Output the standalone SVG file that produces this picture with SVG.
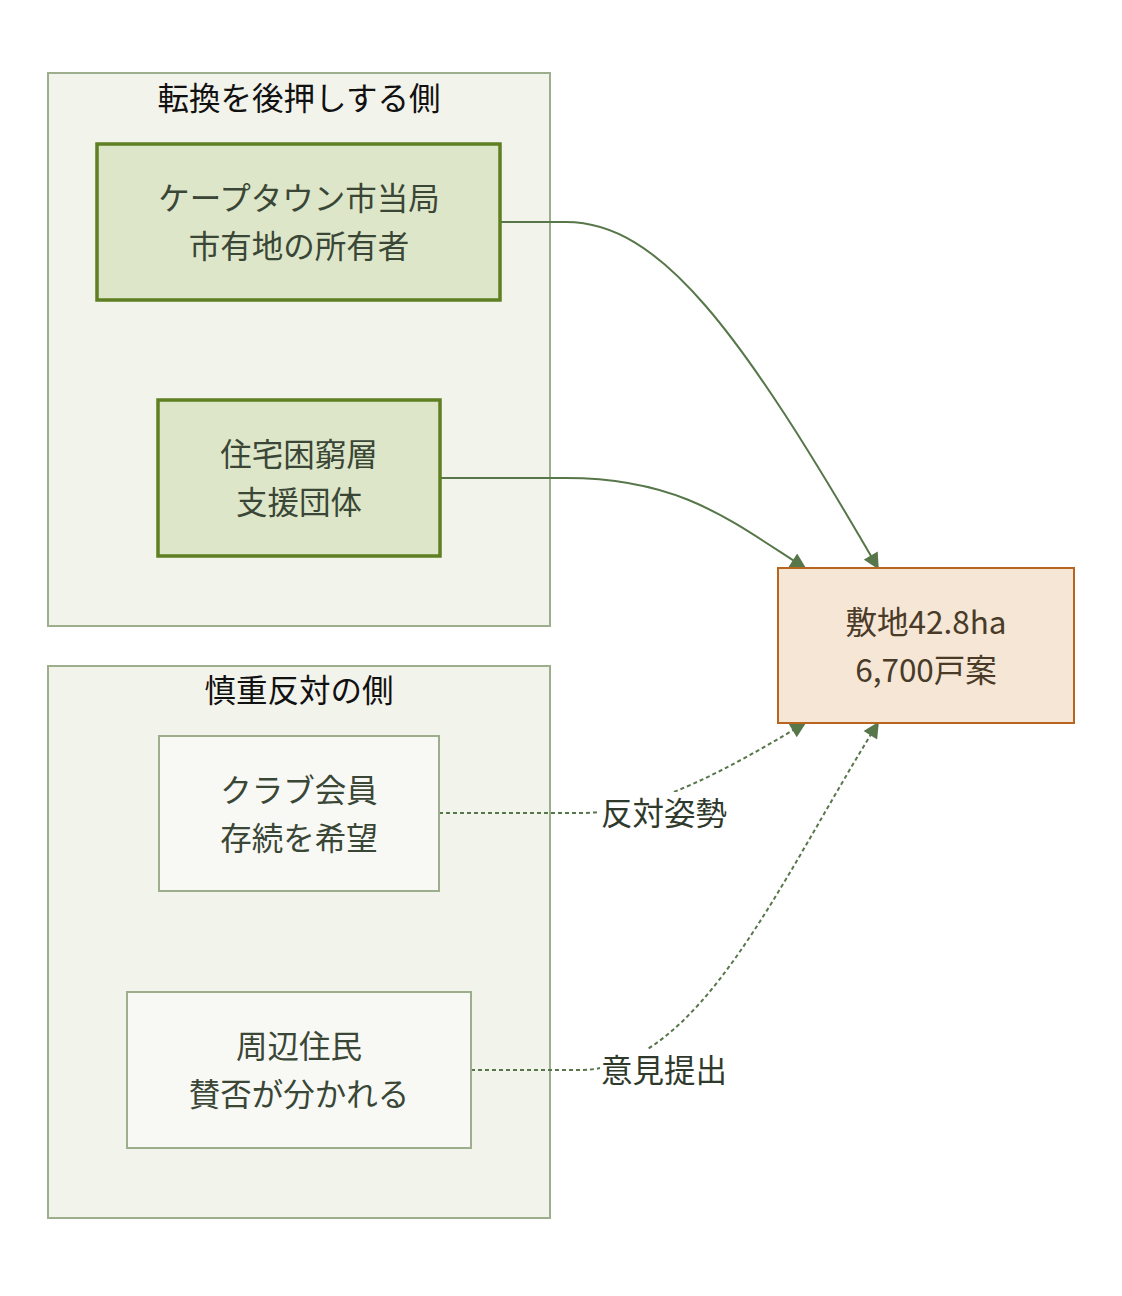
<svg xmlns="http://www.w3.org/2000/svg" width="1122" height="1296" viewBox="0 0 1122 1296">
<defs>
<style>
text{font-family:"Noto Sans CJK JP","Noto Sans",sans-serif;font-size:31.5px;text-anchor:middle;dominant-baseline:central}
.cl{fill:#f2f3eb;stroke:#9dae8d;stroke-width:2}
.ct{fill:#111111}
.pro{fill:#dde6c8;stroke:#5e7f22;stroke-width:3.5}
.con{fill:#f8f9f4;stroke:#9dae8d;stroke-width:2}
.nt{fill:#3a4636}
.tgt{fill:#f5e6d5;stroke:#b8651f;stroke-width:2}
.tt{fill:#4a3b28}
.e{fill:none;stroke:#57774a;stroke-width:2}
.d{stroke-dasharray:4 3}
.lb{fill:#2f3a2c}
</style>
<marker id="ah" viewBox="0 0 10 10" refX="9" refY="5" markerWidth="9" markerHeight="8" orient="auto" markerUnits="strokeWidth">
<path d="M0,0 L10,5 L0,10 z" fill="#57774a"/>
</marker>
</defs>
<rect width="1122" height="1296" fill="#ffffff"/>
<g id="cluster-support">
<rect class="cl" x="48" y="73" width="502" height="553"/>
<text class="ct" x="299" y="96">転換を後押しする側</text>
</g>
<g id="cluster-oppose">
<rect class="cl" x="48" y="666" width="502" height="552"/>
<text class="ct" x="299" y="688">慎重反対の側</text>
</g>
<g id="connectors">
<path class="e" d="M500,222 L566,222 C660,222 740,330 878,568" marker-end="url(#ah)"/>
<path class="e" d="M440,478 L566,478 C680,478 730,520 805,568" marker-end="url(#ah)"/>
<path class="e d" d="M439,813 L580,813 C650,813 730,768 805,723" marker-end="url(#ah)"/>
<path class="e d" d="M471,1070 L580,1070 C700,1070 780,880 878,723" marker-end="url(#ah)"/>
<rect x="600" y="792" width="128" height="42" fill="#ffffff"/>
<text class="lb" x="664" y="811">反対姿勢</text>
<rect x="600" y="1049" width="128" height="42" fill="#ffffff"/>
<text class="lb" x="664" y="1068">意見提出</text>
</g>
<g id="node-capetown">
<rect class="pro" x="97" y="144" width="403" height="156"/>
<text class="nt" x="299" y="196">ケープタウン市当局</text>
<text class="nt" x="299" y="244">市有地の所有者</text>
</g>
<g id="node-housing">
<rect class="pro" x="158" y="400" width="282" height="156"/>
<text class="nt" x="299" y="452">住宅困窮層</text>
<text class="nt" x="299" y="500">支援団体</text>
</g>
<g id="node-club">
<rect class="con" x="159" y="736" width="280" height="155"/>
<text class="nt" x="299" y="788">クラブ会員</text>
<text class="nt" x="299" y="836">存続を希望</text>
</g>
<g id="node-residents">
<rect class="con" x="127" y="992" width="344" height="156"/>
<text class="nt" x="299" y="1044">周辺住民</text>
<text class="nt" x="299" y="1092">賛否が分かれる</text>
</g>
<g id="node-site">
<rect class="tgt" x="778" y="568" width="296" height="155"/>
<text class="tt" x="926" y="620">敷地42.8ha</text>
<text class="tt" x="926" y="668">6,700戸案</text>
</g>
</svg>
